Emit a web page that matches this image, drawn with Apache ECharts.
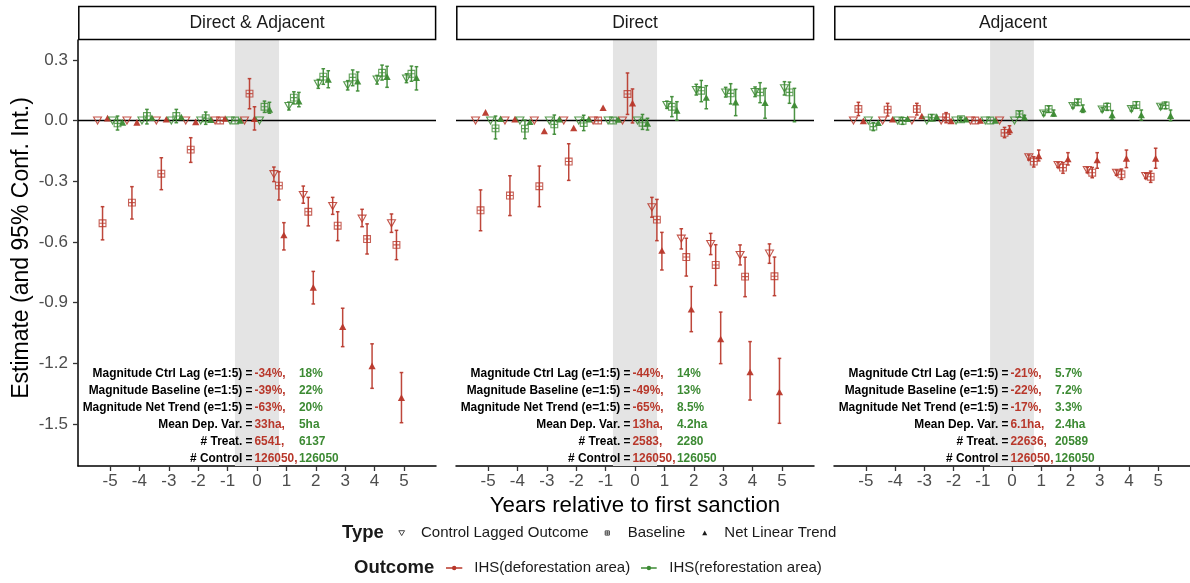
<!DOCTYPE html>
<html><head><meta charset="utf-8">
<script src="https://cdn.jsdelivr.net/npm/echarts@6/dist/echarts.min.js"></script>
<style>html,body{margin:0;padding:0;background:#fff}#c{width:1190px;height:583px}</style>
</head><body><div id="c"></div>
<script>
// ---------------- data ----------------
const YEARS = [-5, -4, -3, -2, -1, 0, 1, 2, 3, 4, 5];
const PANELS = ['Direct & Adjacent', 'Direct', 'Adjacent'];
const TYPES = ['Control Lagged Outcome', 'Baseline', 'Net Linear Trend'];
const OUTCOMES = ['IHS(deforestation area)', 'IHS(reforestation area)'];
const Y_TICKS = [-1.5, -1.2, -0.9, -0.6, -0.3, 0, 0.3];
const X_TICKS = YEARS;

// [estimate, ci_low, ci_high] per year (-5..5); null = no interval drawn
const DA_DEF_CTRL = [[0,null,null],[0,null,null],[0,null,null],[0,null,null],[0,null,null],[0,null,null],[-0.265,-0.302,-0.23],[-0.368,-0.409,-0.324],[-0.423,-0.464,-0.38],[-0.485,-0.525,-0.439],[-0.508,-0.553,-0.462]];
const DA_DEF_BASE = [[-0.508,-0.59,-0.426],[-0.406,-0.487,-0.327],[-0.263,-0.342,-0.184],[-0.144,-0.207,-0.085],[0,null,null],[0.133,0.058,0.207],[-0.322,-0.393,-0.253],[-0.451,-0.521,-0.38],[-0.52,-0.594,-0.451],[-0.586,-0.66,-0.511],[-0.615,-0.688,-0.543]];
const DA_DEF_TREND = [[0.012,null,null],[-0.009,null,null],[0.006,null,null],[-0.007,null,null],[0.01,null,null],[0.009,-0.047,0.068],[-0.566,-0.64,-0.505],[-0.825,-0.907,-0.746],[-1.019,-1.118,-0.928],[-1.213,-1.324,-1.104],[-1.37,-1.494,-1.246]];
const DA_REF_CTRL = [[0,null,null],[0,null,null],[0,null,null],[0,null,null],[0,null,null],[0,null,null],[0.072,0.052,0.091],[0.182,0.159,0.203],[0.174,0.151,0.197],[0.203,0.18,0.223],[0.208,0.187,0.231]];
const DA_REF_BASE = [[-0.014,-0.047,0.022],[0.022,-0.017,0.055],[0.022,-0.011,0.055],[0.011,-0.019,0.042],[0,null,null],[0.068,0.04,0.096],[0.113,0.082,0.142],[0.217,0.179,0.256],[0.213,0.172,0.25],[0.236,0.2,0.274],[0.231,0.194,0.269]];
const DA_REF_TREND = [[-0.009,null,null],[0.014,null,null],[0.017,null,null],[0.004,null,null],[0,null,null],[0.055,0.036,0.09],[0.096,0.068,0.139],[0.203,0.162,0.246],[0.194,0.146,0.24],[0.217,0.164,0.268],[0.212,0.151,0.266]];

const D_DEF_CTRL = [[0,null,null],[0,null,null],[0,null,null],[0,null,null],[0,null,null],[0,null,null],[-0.429,-0.478,-0.38],[-0.584,-0.635,-0.535],[-0.61,-0.663,-0.558],[-0.665,-0.714,-0.615],[-0.658,-0.706,-0.61]];
const D_DEF_BASE = [[-0.444,-0.545,-0.343],[-0.371,-0.47,-0.273],[-0.325,-0.426,-0.225],[-0.203,-0.296,-0.115],[0,null,null],[0.131,0.03,0.235],[-0.49,-0.594,-0.39],[-0.675,-0.769,-0.582],[-0.714,-0.815,-0.614],[-0.772,-0.871,-0.676],[-0.77,-0.866,-0.675]];
const D_DEF_TREND = [[0.04,null,null],[0.007,null,null],[-0.052,null,null],[-0.037,null,null],[0.063,null,null],[0.086,-0.012,0.156],[-0.643,-0.739,-0.553],[-0.933,-1.044,-0.821],[-1.08,-1.202,-0.947],[-1.243,-1.382,-1.093],[-1.342,-1.497,-1.176]];
const D_REF_CTRL = [[0,null,null],[0,null,null],[0,null,null],[0,null,null],[0,null,null],[0,null,null],[0.077,0.06,0.096],[0.151,0.126,0.179],[0.139,0.116,0.164],[0.141,0.118,0.166],[0.159,0.126,0.192]];
const D_REF_BASE = [[-0.039,-0.091,0.022],[-0.04,-0.09,0.002],[-0.019,-0.068,0.027],[-0.012,-0.05,0.026],[0,null,null],[-0.011,-0.044,0.03],[0.068,0.019,0.118],[0.147,0.093,0.198],[0.134,0.082,0.182],[0.139,0.088,0.187],[0.139,0.085,0.19]];
const D_REF_TREND = [[0.009,null,null],[-0.006,null,null],[0.006,null,null],[0.006,null,null],[0.005,null,null],[-0.014,-0.047,0.011],[0.05,0.002,0.093],[0.114,0.058,0.172],[0.091,0.024,0.154],[0.088,0.011,0.159],[0.077,-0.006,0.159]];

const A_DEF_CTRL = [[0,null,null],[0,null,null],[0,null,null],[0,null,null],[0,null,null],[0,null,null],[-0.182,-0.195,-0.17],[-0.22,-0.232,-0.208],[-0.245,-0.258,-0.232],[-0.258,-0.271,-0.245],[-0.274,-0.287,-0.261]];
const A_DEF_BASE = [[0.057,0.024,0.09],[0.054,0.022,0.085],[0.057,0.027,0.085],[0.016,-0.011,0.039],[0,null,null],[-0.061,-0.085,-0.034],[-0.203,-0.23,-0.179],[-0.233,-0.261,-0.208],[-0.258,-0.283,-0.232],[-0.266,-0.291,-0.24],[-0.278,-0.306,-0.25]];
const A_DEF_TREND = [[-0.002,null,null],[0.006,null,null],[0.022,null,null],[-0.002,null,null],[0,null,null],[-0.047,-0.068,-0.026],[-0.175,-0.2,-0.146],[-0.19,-0.22,-0.159],[-0.195,-0.236,-0.159],[-0.187,-0.233,-0.146],[-0.187,-0.236,-0.137]];
const A_REF_CTRL = [[0,null,null],[0,null,null],[0,null,null],[0,null,null],[0,null,null],[0,null,null],[0.035,0.025,0.045],[0.072,0.062,0.082],[0.054,0.044,0.064],[0.057,0.047,0.067],[0.068,0.058,0.078]];
const A_REF_BASE = [[-0.03,-0.05,-0.011],[-0.002,-0.019,0.016],[0.014,-0.001,0.029],[0.006,-0.006,0.016],[0,null,null],[0.032,0.019,0.045],[0.057,0.04,0.072],[0.09,0.075,0.105],[0.068,0.05,0.085],[0.077,0.06,0.093],[0.075,0.058,0.091]];
const A_REF_TREND = [[-0.011,null,null],[0.009,null,null],[0.019,null,null],[0.006,null,null],[0,null,null],[0.016,0.006,0.026],[0.035,0.022,0.052],[0.057,0.04,0.077],[0.027,0.006,0.049],[0.027,0.002,0.052],[0.024,-0.001,0.052]];

// annotation tables
const STAT_LABELS = ['Magnitude Ctrl Lag (e=1:5) =', 'Magnitude Baseline (e=1:5) =', 'Magnitude Net Trend (e=1:5) =', 'Mean Dep. Var. =', '# Treat. =', '# Control ='];
const DA_DEF_STATS = ['-34%,', '-39%,', '-63%,', '33ha,', '6541,', '126050,'];
const DA_REF_STATS = ['18%', '22%', '20%', '5ha', '6137', '126050'];
const D_DEF_STATS = ['-44%,', '-49%,', '-65%,', '13ha,', '2583,', '126050,'];
const D_REF_STATS = ['14%', '13%', '8.5%', '4.2ha', '2280', '126050'];
const A_DEF_STATS = ['-21%,', '-22%,', '-17%,', '6.1ha,', '22636,', '126050,'];
const A_REF_STATS = ['5.7%', '7.2%', '3.3%', '2.4ha', '20589', '126050'];

// ---------------- layout / style ----------------
const FONT = '"Liberation Sans", Arial, Helvetica, sans-serif';
const RED = '#B8372A', GREEN = '#3C8A33';
const COLORS = [RED, GREEN];
const GRID_LEFT = [78, 456, 834], GRID_W = 358, GRID_TOP = 40, GRID_H = 426;
const X_MIN = -6.09, X_MAX = 6.09, Y_MIN = -1.708, Y_MAX = 0.398;
const SHADE = [-0.75, 0.75];
const DODGE_STEP = 0.17;

const PANEL_DATA = [
  [[DA_DEF_CTRL, DA_DEF_BASE, DA_DEF_TREND], [DA_REF_CTRL, DA_REF_BASE, DA_REF_TREND]],
  [[D_DEF_CTRL, D_DEF_BASE, D_DEF_TREND], [D_REF_CTRL, D_REF_BASE, D_REF_TREND]],
  [[A_DEF_CTRL, A_DEF_BASE, A_DEF_TREND], [A_REF_CTRL, A_REF_BASE, A_REF_TREND]]
];
const PANEL_STATS = [[DA_DEF_STATS, DA_REF_STATS], [D_DEF_STATS, D_REF_STATS], [A_DEF_STATS, A_REF_STATS]];

const SQUARE_PLUS = 'path://M0,0L10,0L10,10L0,10Z M5,0L5,10 M0,5L10,5';

function hexA(hex, a) {
  const n = parseInt(hex.slice(1), 16);
  return 'rgba(' + (n >> 16) + ',' + ((n >> 8) & 255) + ',' + (n & 255) + ',' + a + ')';
}

const grids = [], xAxes = [], yAxes = [], series = [], graphics = [];

PANELS.forEach((name, p) => {
  grids.push({ left: GRID_LEFT[p], top: GRID_TOP, width: GRID_W, height: GRID_H, containLabel: false });
  xAxes.push({
    gridIndex: p, type: 'value', min: X_MIN, max: X_MAX,
    axisLine: { show: true, onZero: false, lineStyle: { color: '#000', width: 1.5 } },
    axisTick: { show: true, customValues: X_TICKS, length: 5, lineStyle: { color: '#333', width: 1.3 } },
    axisLabel: { show: true, customValues: X_TICKS, fontSize: 17, color: '#4d4d4d', margin: 7, fontFamily: FONT },
    splitLine: { show: false }
  });
  yAxes.push({
    gridIndex: p, type: 'value', min: Y_MIN, max: Y_MAX, show: p === 0,
    axisLine: { show: true, onZero: false, lineStyle: { color: '#000', width: 1.5 } },
    axisTick: { show: true, customValues: Y_TICKS, length: 5, lineStyle: { color: '#333', width: 1.3 } },
    axisLabel: { show: true, customValues: Y_TICKS, fontSize: 17, color: '#4d4d4d', margin: 10, fontFamily: FONT,
      formatter: v => (Math.abs(v) < 1e-9 ? 0 : v).toFixed(1) },
    splitLine: { show: false }
  });

  // frame: shaded window + zero line
  series.push({
    type: 'custom', xAxisIndex: p, yAxisIndex: p, z: 1, silent: true, animation: false,
    data: [[0, 0]],
    renderItem: (params, api) => {
      const tl = api.coord([SHADE[0], Y_MAX]), br = api.coord([SHADE[1], Y_MIN]);
      const l = api.coord([X_MIN, 0]), r = api.coord([X_MAX, 0]);
      return { type: 'group', children: [
        { type: 'rect', shape: { x: tl[0], y: tl[1], width: br[0] - tl[0], height: br[1] - tl[1] }, style: { fill: '#e4e4e4' } },
        { type: 'line', shape: { x1: l[0], y1: l[1], x2: r[0], y2: r[1] }, style: { stroke: '#000', lineWidth: 1.5 } }
      ] };
    }
  });

  PANEL_DATA[p].forEach((byType, o) => {
    byType.forEach((arr, t) => {
      const off = (o * 3 + t - 2.5) * DODGE_STEP;
      const col = COLORS[o];
      const bars = [];
      YEARS.forEach((yr, i) => { if (arr[i][1] != null) bars.push([yr + off, arr[i][1], arr[i][2]]); });
      series.push({
        type: 'custom', name: OUTCOMES[o] + ' / ' + TYPES[t], xAxisIndex: p, yAxisIndex: p, z: 2, silent: true, animation: false,
        data: bars,
        renderItem: (params, api) => {
          const x = api.value(0);
          const a = api.coord([x, api.value(2)]), b = api.coord([x, api.value(1)]);
          const cw = 1.8;
          const st = { stroke: hexA(col, 0.92), lineWidth: 1.5 };
          return { type: 'group', children: [
            { type: 'line', shape: { x1: a[0], y1: a[1], x2: b[0], y2: b[1] }, style: st },
            { type: 'line', shape: { x1: a[0] - cw, y1: a[1], x2: a[0] + cw, y2: a[1] }, style: st },
            { type: 'line', shape: { x1: b[0] - cw, y1: b[1], x2: b[0] + cw, y2: b[1] }, style: st }
          ] };
        }
      });
      const pts = YEARS.map((yr, i) => [yr + off, arr[i][0]]);
      const sym = t === 0 ? { symbol: 'triangle', symbolRotate: 180, symbolSize: [8, 7],
                              itemStyle: { color: 'rgba(255,255,255,0)', borderColor: col, borderWidth: 1.1, opacity: 0.85 } }
               : t === 1 ? { symbol: SQUARE_PLUS, symbolSize: 6.8,
                              itemStyle: { color: 'rgba(255,255,255,0)', borderColor: col, borderWidth: 1.1, opacity: 0.8 } }
               : { symbol: 'triangle', symbolSize: [7.2, 6.6], itemStyle: { color: col, opacity: 0.95 } };
      series.push(Object.assign({
        type: 'scatter', name: OUTCOMES[o] + ' ' + TYPES[t], xAxisIndex: p, yAxisIndex: p, z: 3, silent: true, animation: false,
        data: pts
      }, sym));
    });
  });

  // strip
  const gl = GRID_LEFT[p];
  graphics.push({ type: 'rect', shape: { x: gl + 0.8, y: 6.5, width: GRID_W - 1.2, height: 33 },
    style: { fill: '#fff', stroke: '#000', lineWidth: 1.5 }, z: 10 });
  graphics.push({ type: 'text', x: gl + GRID_W / 2, y: 23.5, z: 11,
    style: { text: name, fill: '#1a1a1a', fontSize: 17.5, fontFamily: FONT, align: 'center', verticalAlign: 'middle', textAlign: 'center', textVerticalAlign: 'middle' } });

  // stats annotations
  STAT_LABELS.forEach((lab, r) => {
    const y = 373.3 + r * 17;
    const base = { fontSize: 11.9, fontWeight: 'bold', fontFamily: FONT, verticalAlign: 'middle', textVerticalAlign: 'middle' };
    graphics.push({ type: 'text', x: gl + 174.5, y: y, z: 12,
      style: Object.assign({ text: lab, fill: '#000', align: 'right', textAlign: 'right' }, base) });
    graphics.push({ type: 'text', x: gl + 176.5, y: y, z: 12,
      style: Object.assign({ text: PANEL_STATS[p][0][r], fill: RED, align: 'left', textAlign: 'left' }, base) });
    graphics.push({ type: 'text', x: gl + 221, y: y, z: 12,
      style: Object.assign({ text: PANEL_STATS[p][1][r], fill: GREEN, align: 'left', textAlign: 'left' }, base) });
  });
});

// axis titles
graphics.push({ type: 'text', x: (GRID_LEFT[0] + GRID_LEFT[2] + GRID_W) / 2, y: 506, z: 12,
  style: { text: 'Years relative to first sanction', fill: '#000', fontSize: 22.3, fontFamily: FONT, align: 'center', verticalAlign: 'middle', textAlign: 'center', textVerticalAlign: 'middle' } });
graphics.push({ type: 'text', x: 22, y: 248, rotation: Math.PI / 2, z: 12,
  style: { text: 'Estimate (and 95% Conf. Int.)', fill: '#000', fontSize: 23, fontFamily: FONT, align: 'center', verticalAlign: 'middle', textAlign: 'center', textVerticalAlign: 'middle' } });

// legends
function ltext(txt, x, y, bold, size) {
  return { type: 'text', x: x, y: y, z: 12, style: { text: txt, fill: '#1a1a1a', fontSize: size, fontWeight: bold ? 'bold' : 'normal', fontFamily: FONT,
    align: 'left', verticalAlign: 'middle', textAlign: 'left', textVerticalAlign: 'middle' } };
}
const L1 = 533, L2 = 568;
graphics.push(ltext('Type', 342, L1, true, 18.5));
graphics.push({ type: 'polygon', z: 12, shape: { points: [[398.8, L1 - 2.3], [404.6, L1 - 2.3], [401.7, L1 + 2.6]] }, style: { fill: 'none', stroke: '#333', lineWidth: 0.9 } });
graphics.push(ltext('Control Lagged Outcome', 421, L1, false, 15));
graphics.push({ type: 'rect', z: 12, shape: { x: 605.2, y: L1 - 2.1, width: 4.2, height: 4.2 }, style: { fill: 'none', stroke: '#333', lineWidth: 0.9 } });
graphics.push({ type: 'line', z: 12, shape: { x1: 607.3, y1: L1 - 2.1, x2: 607.3, y2: L1 + 2.1 }, style: { stroke: '#333', lineWidth: 0.8 } });
graphics.push({ type: 'line', z: 12, shape: { x1: 605.2, y1: L1, x2: 609.4, y2: L1 }, style: { stroke: '#333', lineWidth: 0.8 } });
graphics.push(ltext('Baseline', 627.7, L1, false, 15));
graphics.push({ type: 'polygon', z: 12, shape: { points: [[702.2, L1 + 2.2], [707.2, L1 + 2.2], [704.7, L1 - 2.4]] }, style: { fill: '#1a1a1a' } });
graphics.push(ltext('Net Linear Trend', 724.3, L1, false, 15));

graphics.push(ltext('Outcome', 354, L2, true, 18.5));
graphics.push({ type: 'line', z: 12, shape: { x1: 446, y1: L2, x2: 462.3, y2: L2 }, style: { stroke: RED, lineWidth: 1.5 } });
graphics.push({ type: 'circle', z: 12, shape: { cx: 454.2, cy: L2, r: 2.2 }, style: { fill: RED } });
graphics.push(ltext(OUTCOMES[0], 474.3, L2, false, 15));
graphics.push({ type: 'line', z: 12, shape: { x1: 641, y1: L2, x2: 656.7, y2: L2 }, style: { stroke: GREEN, lineWidth: 1.5 } });
graphics.push({ type: 'circle', z: 12, shape: { cx: 648.9, cy: L2, r: 2.2 }, style: { fill: GREEN } });
graphics.push(ltext(OUTCOMES[1], 669.3, L2, false, 15));

const chart = echarts.init(document.getElementById('c'), null, { renderer: 'canvas' });
chart.setOption({
  backgroundColor: '#fff',
  animation: false,
  textStyle: { fontFamily: FONT },
  grid: grids, xAxis: xAxes, yAxis: yAxes, series: series, graphic: graphics
});
</script></body></html>
